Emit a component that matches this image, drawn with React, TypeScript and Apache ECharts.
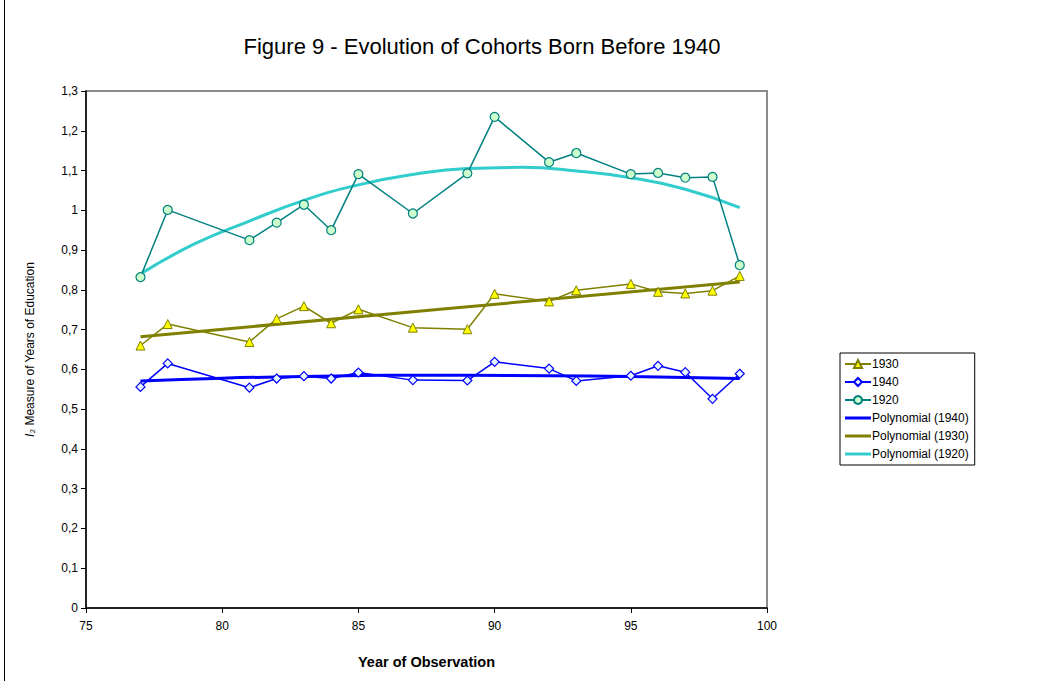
import React, { useEffect, useRef } from "react";
import * as echarts from "echarts";

const years = [77, 78, 81, 82, 83, 84, 85, 87, 89, 90, 92, 93, 95, 96, 97, 98, 99];
const cohort1930 = [0.66, 0.714, 0.669, 0.727, 0.759, 0.716, 0.751, 0.705, 0.701, 0.79, 0.771, 0.799, 0.815, 0.795, 0.791, 0.798, 0.835];
const cohort1940 = [0.556, 0.615, 0.554, 0.577, 0.583, 0.577, 0.592, 0.573, 0.572, 0.619, 0.602, 0.571, 0.584, 0.609, 0.593, 0.526, 0.589];
const cohort1920 = [0.832, 1.001, 0.925, 0.969, 1.014, 0.95, 1.091, 0.992, 1.093, 1.235, 1.121, 1.144, 1.091, 1.094, 1.082, 1.084, 0.862];

// trend lines
const trend1940Years = [77, 80, 83, 86, 89, 92, 95, 99];
const trend1940 = [0.571, 0.578, 0.582, 0.585, 0.585, 0.584, 0.582, 0.577];
const trend1930Years = [77, 88, 99];
const trend1930 = [0.682, 0.751, 0.82];
const trend1920Years = [77, 79, 81, 83, 85, 87, 89, 91, 93, 95, 97, 99];
const trend1920 = [0.84, 0.916, 0.973, 1.025, 1.064, 1.09, 1.105, 1.108, 1.099, 1.082, 1.053, 1.007];

const xTicks = { min: 75, max: 100, interval: 5 };
const yTicks = { min: 0, max: 1.3, interval: 0.1 };

const pair = (xs: number[], ys: number[]) => xs.map((x, i) => [x, ys[i]]);

const FONT = "'Liberation Sans', Arial, sans-serif";
const LINE_ICON = "path://M0,0H26V3H0Z";

export default function App() {
  const ref = useRef<HTMLDivElement>(null);
  useEffect(() => {
    if (!ref.current) return;
    const chart = echarts.init(ref.current, null, { renderer: "svg" });
    chart.setOption({
      animation: false,
      backgroundColor: "#ffffff",
      textStyle: { fontFamily: FONT },
      title: {
        text: "Figure 9 - Evolution of Cohorts Born Before 1940",
        left: 477,
        textAlign: "center",
        top: 30,
        textStyle: { fontFamily: FONT, fontSize: 22, fontWeight: "normal", color: "#000" },
      },
      graphic: [
        { type: "line", shape: { x1: 4.5, y1: 0, x2: 4.5, y2: 681 }, style: { stroke: "#000", lineWidth: 1 } },
      ],
      legend: {
        orient: "vertical",
        left: 840,
        top: 353,
        padding: [5, 6, 5, 4],
        borderColor: "#000",
        borderWidth: 1,
        itemWidth: 26,
        itemHeight: 10,
        itemGap: 6,
        textStyle: { fontFamily: FONT, fontSize: 12, color: "#000", padding: [0, 0, 0, -4] },
        data: [
          { name: "1930" },
          { name: "1940" },
          { name: "1920" },
          { name: "Polynomial (1940)", icon: LINE_ICON },
          { name: "Polynomial (1930)", icon: LINE_ICON },
          { name: "Polynomial (1920)", icon: LINE_ICON },
        ],
      },
      grid: {
        left: 86,
        top: 91,
        width: 681,
        height: 517,
        show: true,
        borderColor: "#8c8c8c",
        borderWidth: 2,
        backgroundColor: "#fff",
      },
      xAxis: {
        type: "value",
        min: xTicks.min,
        max: xTicks.max,
        interval: xTicks.interval,
        name: "Year of Observation",
        nameLocation: "middle",
        nameGap: 46,
        nameTextStyle: { fontFamily: FONT, fontSize: 14.5, fontWeight: "bold", color: "#000" },
        axisLine: { show: true, onZero: false, lineStyle: { color: "#000", width: 1.5 } },
        axisTick: { show: true, inside: false, length: 5, lineStyle: { color: "#000" } },
        axisLabel: { fontFamily: FONT, fontSize: 12, color: "#000", margin: 12 },
        splitLine: { show: false },
      },
      yAxis: {
        type: "value",
        min: yTicks.min,
        max: yTicks.max,
        interval: yTicks.interval,
        name: "{i|I}₂ Measure of Years of Education",
        nameLocation: "middle",
        nameGap: 50,
        nameRotate: 90,
        nameTextStyle: {
          fontFamily: FONT,
          fontSize: 12,
          color: "#000",
          rich: { i: { fontFamily: FONT, fontSize: 12, fontStyle: "italic", color: "#000" } },
        },
        axisLine: { show: true, onZero: false, lineStyle: { color: "#000", width: 1.5 } },
        axisTick: { show: true, inside: false, length: 5, lineStyle: { color: "#000" } },
        axisLabel: {
          fontFamily: FONT,
          fontSize: 12,
          color: "#000",
          margin: 8,
          formatter: (v: number) =>
            Math.abs(v - Math.round(v)) < 1e-9 ? String(Math.round(v)) : v.toFixed(1).replace(".", ","),
        },
        splitLine: { show: false },
      },
      series: [
        {
          name: "Polynomial (1940)",
          type: "line",
          data: pair(trend1940Years, trend1940),
          smooth: true,
          symbol: "none",
          lineStyle: { color: "#0000ff", width: 3 },
          itemStyle: { color: "#0000ff" },
          z: 2,
        },
        {
          name: "Polynomial (1930)",
          type: "line",
          data: pair(trend1930Years, trend1930),
          smooth: true,
          symbol: "none",
          lineStyle: { color: "#808000", width: 3 },
          itemStyle: { color: "#808000" },
          z: 2,
        },
        {
          name: "Polynomial (1920)",
          type: "line",
          data: pair(trend1920Years, trend1920),
          smooth: true,
          symbol: "none",
          lineStyle: { color: "#33cccc", width: 3 },
          itemStyle: { color: "#33cccc" },
          z: 2,
        },
        {
          name: "1930",
          type: "line",
          data: pair(years, cohort1930),
          symbol: "triangle",
          symbolSize: 9,
          lineStyle: { color: "#808000", width: 1.5 },
          itemStyle: { color: "#ffff00", borderColor: "#808000", borderWidth: 1 },
          z: 3,
        },
        {
          name: "1940",
          type: "line",
          data: pair(years, cohort1940),
          symbol: "diamond",
          symbolSize: 9,
          lineStyle: { color: "#0000ff", width: 1.5 },
          itemStyle: { color: "#e6f5ff", borderColor: "#0000ff", borderWidth: 1.2 },
          z: 3,
        },
        {
          name: "1920",
          type: "line",
          data: pair(years, cohort1920),
          symbol: "circle",
          symbolSize: 9,
          lineStyle: { color: "#008080", width: 1.5 },
          itemStyle: { color: "#ccffcc", borderColor: "#008080", borderWidth: 1.2 },
          z: 3,
        },
      ],
    });
    return () => chart.dispose();
  }, []);
  return (
    <div
      ref={ref}
      style={{ position: "fixed", left: 0, top: 0, width: 1064, height: 681, background: "#fff" }}
    />
  );
}
